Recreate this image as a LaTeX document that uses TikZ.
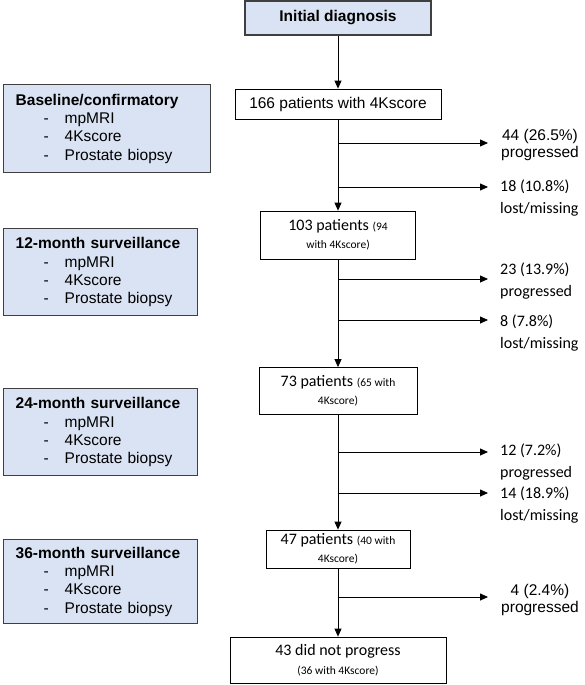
\documentclass[tikz,border=0pt]{standalone}
\usepackage{fontspec}
\setmainfont{Liberation Sans}
\newfontfamily\calibri{Carlito}
\usetikzlibrary{arrows.meta, positioning}

\definecolor{boxblue}{HTML}{DAE3F3}
\definecolor{boxedge}{HTML}{3F3F3F}

\newcommand{\visit}[1]{\hspace*{28pt}\makebox[21pt][l]{-}#1}
\newcommand{\smalltxt}[1]{{\fontsize{11.5}{14}\selectfont #1}}

\begin{document}
\begin{tikzpicture}[
    x=1pt, y=-1pt,
    font=\fontsize{15.5}{18.3}\selectfont,
    >={Triangle[length=8pt, width=7pt]},
    flow/.style={
        draw,
        line width=0.8pt,
        fill=white,
        align=center,
        inner sep=2pt
    },
    cbox/.style={
        flow,
        font=\calibri\fontsize{16}{18.5}\selectfont
    },
    headbox/.style={
        draw=boxedge,
        line width=1.4pt,
        fill=boxblue,
        align=center,
        font=\fontsize{15.5}{18.3}\selectfont\bfseries
    },
    visitbox/.style={
        draw=boxedge,
        line width=1.4pt,
        fill=boxblue,
        anchor=north west,
        align=left,
        inner xsep=12pt,
        inner ysep=0pt
    },
    tally/.style={
        align=left,
        anchor=west,
        inner sep=0pt,
        font=\calibri\fontsize{16}{21.5}\selectfont
    },
    tallyc/.style={
        align=center,
        inner sep=0pt,
        font=\fontsize{15.5}{17}\selectfont
    },
    conn/.style={->, line width=0.8pt}
]

\useasboundingbox (0,0) rectangle (584,685);

% Patient flow
\node[headbox, minimum width=186pt, minimum height=34pt] (init) at (338,18) {Initial diagnosis};

\node[flow, minimum width=206pt, minimum height=30pt] (n166) at (338,104)
{166 patients with 4Kscore};

\node[cbox, minimum width=155pt, minimum height=48pt] (n103) at (338,235)
{103 patients \smalltxt{(94}\\\smalltxt{with 4Kscore)}};

\node[cbox, minimum width=158pt, minimum height=47pt] (n73) at (338,391)
{73 patients \smalltxt{(65 with}\\\smalltxt{4Kscore)}};

\node[cbox, minimum width=144pt, minimum height=38pt] (n47) at (338,549)
{47 patients \smalltxt{(40 with}\\\smalltxt{4Kscore)}};

\node[cbox, minimum width=216pt, minimum height=46pt] (n43) at (338,660)
{43 did not progress\\\smalltxt{(36 with 4Kscore)}};

\draw[conn] (init) -- (n166);
\draw[conn] (n166) -- (n103);
\draw[conn] (n103) -- (n73);
\draw[conn] (n73) -- (n47);
\draw[conn] (n47) -- (n43);

% Drop-outs
\foreach \y [count=\i] in {143,187,279,320,452,493,597} {
    \coordinate (b\i) at (338,\y);
    \coordinate (e\i) at (488,\y);
    \draw[conn] (b\i) -- (e\i);
}

\node[tallyc] (l1) at (540,145) {44 (26.5\%)\\progressed};
\node[tally] (l2) at (500,198) {18 (10.8\%)\\lost/missing};
\node[tally] (l3) at (500,281) {23 (13.9\%)\\progressed};
\node[tally] (l4) at (500,333) {8 (7.8\%)\\lost/missing};
\node[tally] (l5) at (500,462) {12 (7.2\%)\\progressed};
\node[tally] (l6) at (500,505) {14 (18.9\%)\\lost/missing};
\node[tallyc] (l7) at (540,600) {4 (2.4\%)\\progressed};

% Visits
\node[visitbox, minimum height=88pt, text width=183pt] (base) at (3,84)
{\textbf{Baseline/confirmatory}\\\visit{mpMRI}\\\visit{4Kscore}\\\visit{Prostate biopsy}};

\node[visitbox, minimum height=87pt, text width=170pt] (m12) at (3,228)
{\textbf{12-month surveillance}\\\visit{mpMRI}\\\visit{4Kscore}\\\visit{Prostate biopsy}};

\node[visitbox, minimum height=87pt, text width=170pt] (m24) at (3,388)
{\textbf{24-month surveillance}\\\visit{mpMRI}\\\visit{4Kscore}\\\visit{Prostate biopsy}};

\node[visitbox, minimum height=84pt, text width=170pt] (m36) at (3,539)
{\textbf{36-month surveillance}\\\visit{mpMRI}\\\visit{4Kscore}\\\visit{Prostate biopsy}};

\end{tikzpicture}
\end{document}
